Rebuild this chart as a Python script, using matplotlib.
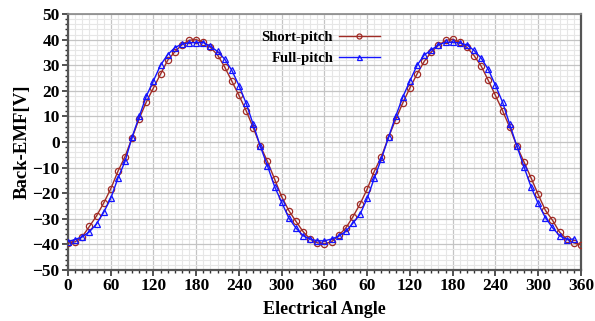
import numpy as np
import matplotlib
matplotlib.use('Agg')
import matplotlib.pyplot as plt
from matplotlib.ticker import MultipleLocator, FixedLocator

# electrical angle in degrees (two periods, 0..720)
angle_short = np.arange(0, 721, 10)
angle_full = np.arange(0, 711, 10)

short_pitch = [
    -39.5, -39.0, -37.0, -33.0, -28.9, -23.9, -18.3, -11.5, -5.7, 1.7,
    9.2, 15.7, 21.2, 26.6, 32.0, 35.3, 38.0, 39.8, 40.0, 39.1,
    37.0, 34.0, 29.3, 23.8, 18.2, 12.3, 5.6, -1.5, -7.6, -14.5,
    -21.4, -26.8, -31.0, -35.0, -38.0, -39.4, -39.8, -39.0, -36.5, -33.6,
    -29.2, -24.2, -18.4, -11.4, -5.7, 1.9, 8.8, 15.3, 21.2, 26.6,
    31.5, 35.2, 37.8, 39.7, 40.2, 39.0, 37.0, 33.8, 29.7, 24.1,
    18.2, 12.3, 5.8, -1.5, -7.7, -14.0, -20.5, -26.6, -30.5, -35.2,
    -37.9, -39.4, -40.2,
]

full_pitch = [
    -38.9, -38.1, -37.0, -35.1, -32.0, -27.5, -22.0, -14.2, -7.6, 2.0,
    10.0, 18.0, 24.0, 30.1, 34.2, 36.9, 38.3, 38.8, 38.9, 38.9,
    37.4, 35.4, 32.4, 28.0, 22.1, 15.2, 6.9, -1.7, -9.3, -17.4,
    -23.6, -29.7, -33.6, -36.6, -37.9, -38.6, -38.6, -37.9, -36.8, -34.9,
    -31.7, -28.2, -22.0, -14.1, -6.5, 1.9, 10.1, 17.6, 23.9, 30.0,
    34.0, 36.0, 38.0, 39.0, 39.0, 38.7, 38.0, 35.8, 32.8, 28.4,
    22.2, 15.6, 7.0, -1.5, -9.6, -17.5, -24.0, -29.5, -33.4, -36.6,
    -38.1, -37.9,
]

tick_pos = list(range(0, 721, 60))
tick_labels = ['0', '60', '120', '180', '240', '300', '360',
               '60', '120', '180', '240', '300', '360']

plt.rcParams['font.family'] = ['Liberation Serif', 'DejaVu Serif']
plt.rcParams['font.weight'] = 'bold'

red = '#a02c26'
blue = '#1414ff'

fig = plt.figure(figsize=(5.95, 3.21), dpi=100)
ax = fig.add_axes([0.1143, 0.159, 0.862, 0.797])

ax.plot(angle_short, short_pitch, color=red, lw=1.0, marker='o', ms=4.5,
        mfc='none', mew=0.9, label='Short-pitch', zorder=3)
ax.plot(angle_full, full_pitch, color=blue, lw=1.0, marker='^', ms=4.5,
        mfc='none', mew=0.9, label='Full-pitch', zorder=3)

ax.set_xlim(0, 720)
ax.set_ylim(-50, 50)
ax.xaxis.set_major_locator(FixedLocator(tick_pos))
ax.set_xticklabels(tick_labels)
ax.xaxis.set_minor_locator(MultipleLocator(10))
ax.yaxis.set_major_locator(MultipleLocator(10))
ax.yaxis.set_minor_locator(MultipleLocator(2))

ax.grid(which='major', color='#c4c4c4', lw=0.9, zorder=0)
ax.grid(which='minor', color='#e6e6e6', lw=0.8, zorder=0)
ax.set_axisbelow(True)

ax.tick_params(which='major', direction='out', length=4, width=1.2,
               colors='#333333', labelsize=12.5, pad=2)
ax.tick_params(which='minor', direction='out', length=2.5, width=1,
               colors='#333333')
for lab in ax.get_xticklabels() + ax.get_yticklabels():
    lab.set_color('black')
    lab.set_fontweight('bold')

for side in ['left', 'bottom', 'right']:
    ax.spines[side].set_color('#555555')
    ax.spines[side].set_linewidth(1.6)
ax.spines['top'].set_color('#888888')
ax.spines['top'].set_linewidth(1.2)

ax.set_xlabel('Electrical Angle', fontsize=13, fontweight='bold', labelpad=5)
ax.set_ylabel('Back-EMF[V]', fontsize=13.5, fontweight='bold', labelpad=1)

leg = ax.legend(loc='upper left', bbox_to_anchor=(0.352, 0.985), frameon=False,
                markerfirst=False, fontsize=10.5, handlelength=2.8,
                handletextpad=0.4, labelspacing=0.5, markerscale=0.8)
for t in leg.get_texts():
    t.set_fontweight('bold')

plt.savefig('out.png', dpi=100)
